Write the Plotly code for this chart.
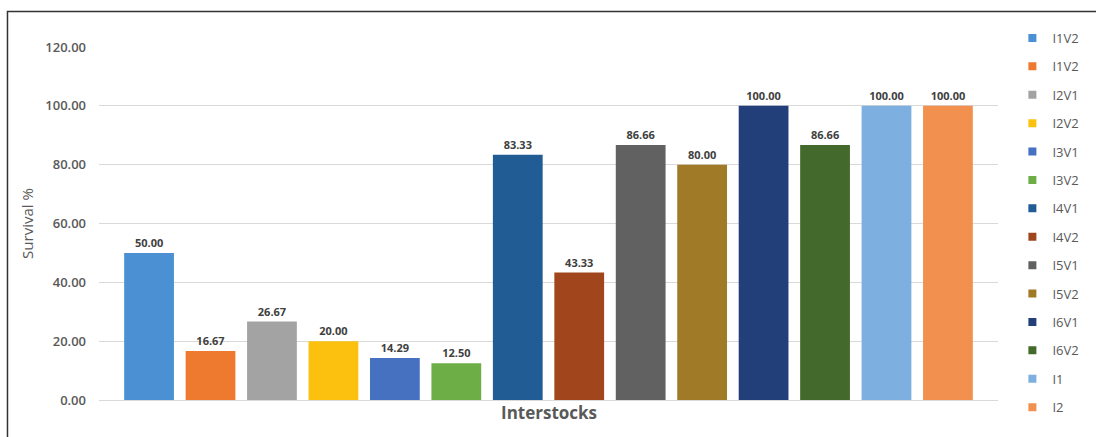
import plotly.graph_objects as go

categories = ["Interstocks"]
series_names = ["I1V2", "I1V2", "I2V1", "I2V2", "I3V1", "I3V2", "I4V1", "I4V2",
                "I5V1", "I5V2", "I6V1", "I6V2", "I1", "I2"]
survival = [50.00, 16.67, 26.67, 20.00, 14.29, 12.50, 83.33, 43.33,
            86.66, 80.00, 100.00, 86.66, 100.00, 100.00]
colors = ["#4A90D2", "#EE7A30", "#A3A3A3", "#FCC10F", "#4571C0", "#6EAE46",
          "#215C94", "#A1461C", "#616161", "#A07A26", "#233F7A", "#43692C",
          "#7DB0E0", "#F2914F"]
y_ticks = [0, 20, 40, 60, 80, 100, 120]

FONT = "Open Sans"
TXT = "#595959"

fig = go.Figure()
for i, (name, val, col) in enumerate(zip(series_names, survival, colors)):
    fig.add_trace(go.Bar(
        x=categories, y=[val], name=name, marker=dict(color=col, line=dict(width=0)),
        text=[f"{val:.2f}"], textposition="outside", cliponaxis=False,
        textfont=dict(family=FONT, size=11, color="#404040", weight="bold"),
        legendgroup=f"g{i}", showlegend=False,
    ))
    # legend swatch (small square like the reference)
    fig.add_trace(go.Scatter(
        x=[None], y=[None], mode="markers", name=name,
        marker=dict(symbol="square", size=8, color=col),
        legendgroup=f"g{i}", showlegend=True, hoverinfo="skip",
    ))

fig.update_layout(
    width=1096, height=437,
    margin=dict(l=99, r=98, t=47, b=37, autoexpand=False),
    paper_bgcolor="white", plot_bgcolor="white",
    barmode="group", bargap=0.043, bargroupgap=0.19,
    font=dict(family=FONT, color=TXT),
    showlegend=True,
    legend=dict(x=1.016, y=1.068, xanchor="left", yanchor="top",
                font=dict(family=FONT, size=13, color=TXT),
                tracegroupgap=8.5, itemwidth=30, maxheight=430,
                bgcolor="rgba(0,0,0,0)"),
    xaxis=dict(showticklabels=False, showgrid=False, zeroline=False,
               showline=True, linecolor="#D9D9D9", linewidth=1, ticks=""),
    yaxis=dict(range=[0, 120], tickvals=y_ticks, tickformat=".2f",
               showgrid=True, gridcolor="#D9D9D9", gridwidth=1,
               zeroline=False, showline=False, ticks="",
               ticklabelstandoff=12,
               tickfont=dict(family=FONT, size=13, color=TXT, weight=600),
               title=dict(text="Survival %", standoff=8,
                          font=dict(family=FONT, size=15, color=TXT))),
    annotations=[dict(text="Interstocks", x=0.5, y=-0.034, xref="paper", yref="paper",
                      xanchor="center", yanchor="middle", showarrow=False,
                      font=dict(family=FONT, size=17, color=TXT, weight="bold"))],
    shapes=[dict(type="rect", xref="paper", yref="paper",
                 x0=-0.1018, x1=1.2, y0=-0.2, y1=1.1006,
                 line=dict(color="#333333", width=1.5), fillcolor="rgba(0,0,0,0)",
                 layer="below")],
)

fig.write_html("out.html")
